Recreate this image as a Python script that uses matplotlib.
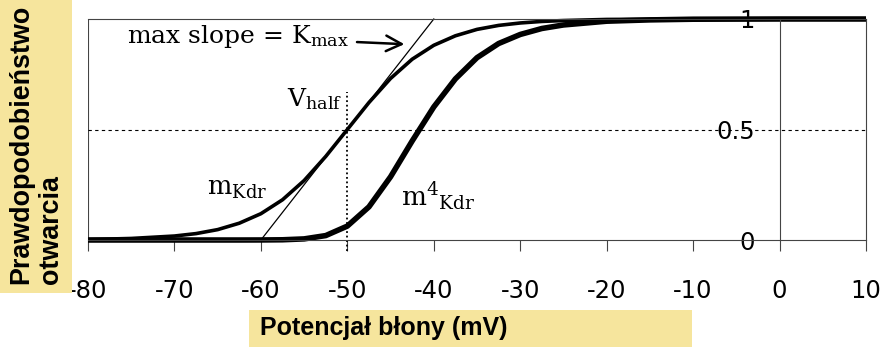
import matplotlib
matplotlib.use("Agg")
import matplotlib.pyplot as plt
from matplotlib.patches import Rectangle

# membrane potential (mV) and open probabilities
voltage = [-80, -75, -70, -67.5, -65, -62.5, -60, -57.5, -55, -52.5, -50,
           -47.5, -45, -42.5, -40, -37.5, -35, -32.5, -30, -27.5, -25,
           -20, -15, -10, 0, 10]
m_kdr = [0.002, 0.007, 0.018, 0.029, 0.047, 0.076, 0.119, 0.182, 0.269,
         0.378, 0.5, 0.622, 0.731, 0.818, 0.881, 0.924, 0.953, 0.971,
         0.982, 0.989, 0.993, 0.998, 0.999, 1.0, 1.0, 1.0]
m4_kdr = [0.0, 0.0, 0.0, 0.0, 0.0, 0.0, 0.0002, 0.001, 0.005, 0.020, 0.063,
          0.150, 0.286, 0.448, 0.602, 0.729, 0.825, 0.889, 0.930, 0.957,
          0.973, 0.990, 0.996, 0.999, 1.0, 1.0]

# tangent at V_half (max slope)
tangent_v = [-60, -40]
tangent_p = [0, 1]
v_half = -50

x_ticks = [-80, -70, -60, -50, -40, -30, -20, -10, 0, 10]
x_tick_labels = ['-80', '-70', '-60', '-50', '-40', '-30', '-20', '-10', '0', '10']
y_ticks = [0, 0.5, 1]
y_tick_labels = ['0', '0.5', '1']

plt.rcParams['mathtext.fontset'] = 'custom'
plt.rcParams['mathtext.rm'] = 'DejaVu Serif'
plt.rcParams['mathtext.it'] = 'DejaVu Serif:italic'

fig = plt.figure(figsize=(8.86, 3.47), dpi=100)
ax = fig.add_axes([88 / 886, 107 / 347, 778 / 886, 221 / 347])

frame = '#444444'
ax.set_xlim(-80, 10)
ax.set_ylim(0, 1)

# y axis sits at V = 0, box closed with thin lines
ax.spines['left'].set_position(('data', 0))
ax.axvline(-80, color=frame, lw=0.8)
for s in ['left', 'right', 'top', 'bottom']:
    ax.spines[s].set_color(frame)
    ax.spines[s].set_linewidth(0.8)

ax.set_xticks(x_ticks)
ax.set_xticklabels(x_tick_labels, family='DejaVu Sans', fontsize=17.5)
ax.set_yticks(y_ticks)
ax.set_yticklabels(y_tick_labels, family='DejaVu Sans', fontsize=17.5)
ax.tick_params(axis='x', direction='out', length=8, width=0.8, color=frame, pad=20)
ax.tick_params(axis='y', length=0, pad=18)

ax.axhline(0.5, color='black', lw=0.8, ls=(0, (3, 3)))
ax.plot([v_half, v_half], [-0.05, 0.67], color='black', lw=1.3, ls=(0, (1, 1.5)),
        clip_on=False)

ax.plot(tangent_v, tangent_p, color='black', lw=0.9, clip_on=False)
ax.plot(voltage, m_kdr, color='black', lw=2.6, clip_on=False, solid_capstyle='butt')
ax.plot(voltage, m4_kdr, color='black', lw=4.0, clip_on=False, solid_capstyle='butt')

serif = 'DejaVu Serif'
ax.annotate(r'max slope = K$_{\mathrm{max}}$', xy=(-43.4, 0.886), xytext=(-75.5, 0.92),
            ha='left', va='center', family=serif, fontsize=18,
            arrowprops=dict(arrowstyle='->', lw=1.8, color='black',
                            mutation_scale=28, shrinkA=4, shrinkB=0))
ax.text(-50.6, 0.64, r'V$_{\mathrm{half}}$', ha='right', va='center',
        family=serif, fontsize=18)
ax.text(-66.2, 0.235, r'$\mathrm{m}_{\mathrm{Kdr}}$', ha='left', va='center',
        fontsize=18.5)
ax.text(-43.8, 0.2, r'$\mathrm{m}^{4}{}_{\mathrm{Kdr}}$', ha='left', va='center',
        fontsize=19)

# yellow label boxes
yellow = '#f6e59d'
fig.patches.append(Rectangle((0, (347 - 293) / 347), 72 / 886, 293 / 347,
                             transform=fig.transFigure, facecolor=yellow,
                             edgecolor='none', zorder=5))
fig.patches.append(Rectangle((249 / 886, 0), 443 / 886, 37 / 347,
                             transform=fig.transFigure, facecolor=yellow,
                             edgecolor='none', zorder=5))
fig.text(36 / 886, (347 - 284) / 347, 'Prawdopodobieństwo\notwarcia',
         rotation=90, ha='center', va='bottom', multialignment='left',
         family='Liberation Sans', weight='bold', fontsize=19.4, zorder=6)
fig.text(260 / 886, (347 - 328) / 347, 'Potencjał błony (mV)', ha='left',
         va='center', family='Liberation Sans', weight='bold', fontsize=18,
         zorder=6)

fig.savefig('out.png', dpi=100)
